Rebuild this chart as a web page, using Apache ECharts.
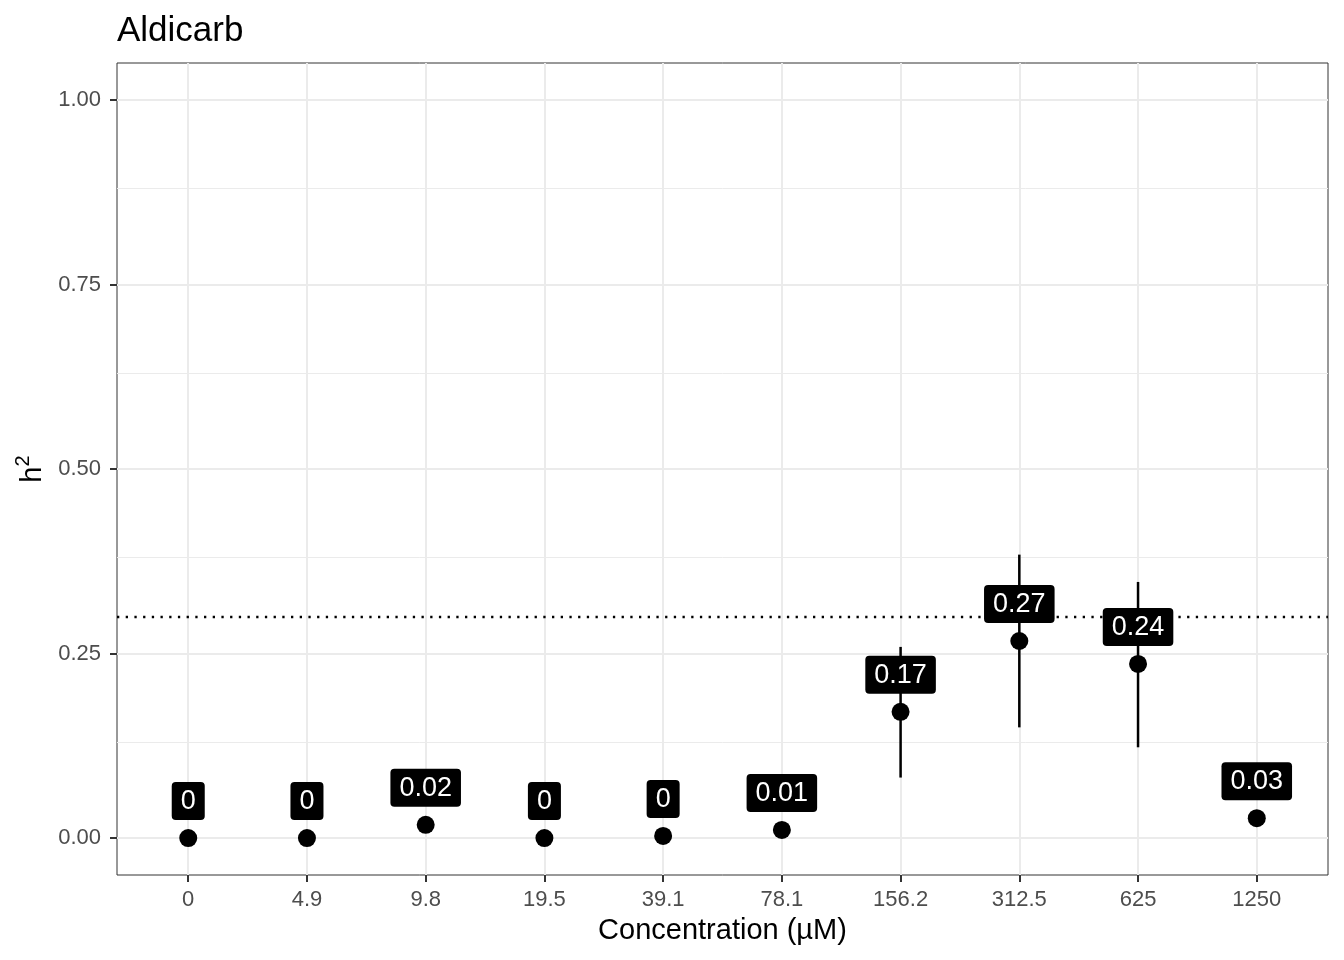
<!DOCTYPE html>
<html>
<head>
<meta charset="utf-8">
<script src="https://cdn.jsdelivr.net/npm/echarts@6/dist/echarts.min.js"></script>
<style>html,body{margin:0;padding:0;background:#fff}#c{width:1344px;height:960px}</style>
</head>
<body>
<div id="c"></div>
<script>
const concentrations = ['0', '4.9', '9.8', '19.5', '39.1', '78.1', '156.2', '312.5', '625', '1250'];
const h2 = [0, 0, 0.018, 0, 0.003, 0.011, 0.171, 0.267, 0.236, 0.027];
const h2Labels = ['0', '0', '0.02', '0', '0', '0.01', '0.17', '0.27', '0.24', '0.03'];
const ciLow = [null, null, null, null, null, null, 0.082, 0.150, 0.123, null];
const ciHigh = [null, null, null, null, null, null, 0.259, 0.384, 0.347, null];
const yTicks = [0, 0.25, 0.5, 0.75, 1.0];
const yMinor = [0.125, 0.375, 0.625, 0.875];
const threshold = 0.3;

const FONT = '"Liberation Sans", Arial, Helvetica, sans-serif';
const xIdx = concentrations.map((c, i) => i);

const chart = echarts.init(document.getElementById('c'), null, {renderer: 'canvas'});
chart.setOption({
  animation: false,
  backgroundColor: '#ffffff',
  textStyle: {fontFamily: FONT},
  title: {
    text: 'Aldicarb', left: 112, top: 9,
    textStyle: {fontFamily: FONT, fontSize: 35, fontWeight: 'normal', color: '#000'}
  },
  grid: {left: 117, right: 16, top: 63, bottom: 85, show: true, borderColor: '#333333', borderWidth: 1, backgroundColor: 'transparent'},
  xAxis: {
    type: 'value', min: -0.6, max: 9.6,
    name: 'Concentration (µM)', nameLocation: 'middle', nameGap: 41,
    nameTextStyle: {fontFamily: FONT, fontSize: 29, color: '#000'},
    axisLine: {show: false, onZero: false},
    axisTick: {show: true, length: 7, customValues: xIdx, lineStyle: {color: '#333333', width: 2}},
    axisLabel: {customValues: xIdx, margin: 14, fontSize: 22, color: '#4D4D4D', fontFamily: FONT,
      formatter: v => concentrations[Math.round(v)]},
    splitLine: {show: true, lineStyle: {color: '#EBEBEB', width: 2}}
  },
  yAxis: {
    type: 'value', min: -0.05, max: 1.05,
    name: '{h|h}{s|2}', nameLocation: 'middle', nameGap: 70, nameRotate: 90,
    nameTextStyle: {fontFamily: FONT, fontSize: 29, color: '#000',
      rich: {
        h: {fontFamily: FONT, fontSize: 29, color: '#000', verticalAlign: 'bottom', lineHeight: 34},
        s: {fontFamily: FONT, fontSize: 20, color: '#000', verticalAlign: 'top', lineHeight: 34}
      }},
    axisLine: {show: false, onZero: false},
    axisTick: {show: true, length: 7, customValues: yTicks, lineStyle: {color: '#333333', width: 2}},
    axisLabel: {customValues: yTicks, margin: 16, fontSize: 22, color: '#4D4D4D', fontFamily: FONT,
      formatter: v => v.toFixed(2)},
    splitLine: {show: true, lineStyle: {color: '#EBEBEB', width: 2}}
  },
  series: [
    {
      type: 'line', data: [], silent: true, z: 1,
      markLine: {
        z: 1,
        silent: true, symbol: 'none', label: {show: false}, animation: false,
        lineStyle: {color: '#EBEBEB', width: 1, type: 'solid'},
        data: yMinor.map(v => ({yAxis: v}))
      }
    },
    {
      type: 'custom', z: 3, silent: true,
      data: xIdx.filter(i => ciLow[i] !== null).map(i => [i, ciLow[i], ciHigh[i]]),
      renderItem: (params, api) => {
        const p1 = api.coord([api.value(0), api.value(1)]);
        const p2 = api.coord([api.value(0), api.value(2)]);
        return {type: 'line', shape: {x1: p1[0], y1: p1[1], x2: p2[0], y2: p2[1]},
          style: {stroke: '#000', lineWidth: 2.5}};
      }
    },
    {
      type: 'scatter', z: 5, symbol: 'circle', symbolSize: 18,
      itemStyle: {color: '#000', opacity: 1},
      emphasis: {disabled: true},
      data: xIdx.map(i => [i, h2[i]]),
      label: {
        show: true, position: 'top', distance: 9,
        formatter: p => h2Labels[p.dataIndex],
        color: '#fff', backgroundColor: '#000', borderRadius: 4,
        padding: [6, 9, 5, 9], fontSize: 27, fontFamily: FONT
      },
      markLine: {
        z: 2,
        silent: true, symbol: 'none', label: {show: false}, animation: false,
        lineStyle: {color: '#000', width: 2.3, type: [2.3, 6.4]},
        data: [{yAxis: threshold}]
      }
    }
  ]
});
</script>
</body>
</html>
